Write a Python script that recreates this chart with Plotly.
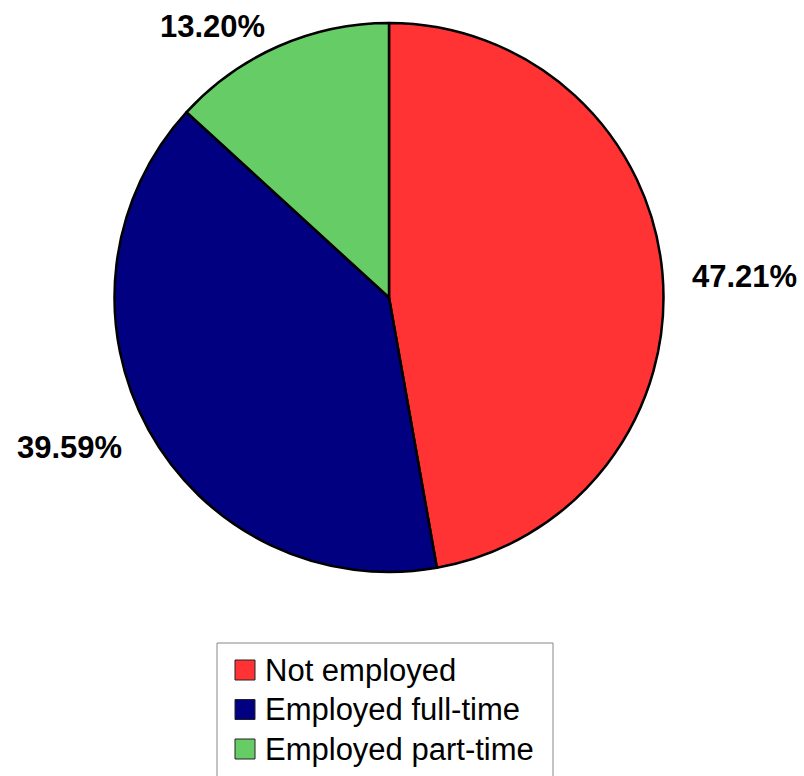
import math
import plotly.graph_objects as go

# Employment status shares (percent)
categories = ["Not employed", "Employed full-time", "Employed part-time"]
shares = [47.21, 39.59, 13.20]
colors = ["#FF3333", "#000080", "#66CC66"]

W, H = 804, 776
cx, cy, R = 389, 297.5, 274.5  # pie centre and radius in pixels
FONT = "Liberation Sans, Arial, sans-serif"

fig = go.Figure(
    go.Pie(
        labels=categories,
        values=shares,
        sort=False,
        direction="clockwise",
        rotation=0,
        textinfo="none",
        hoverinfo="label+percent",
        showlegend=False,
        marker=dict(colors=colors, line=dict(color="black", width=2.5)),
        domain=dict(
            x=[(cx - R) / W, (cx + R) / W],
            y=[1 - (cy + R) / H, 1 - (cy - R) / H],
        ),
    )
)

# Percentage labels just outside each slice, at the slice's mid-angle
total = sum(shares)
start = 0.0
annotations = []
for val in shares:
    mid = start + val / total * 360 / 2
    start += val / total * 360
    a = math.radians(mid)
    r = R * 1.1
    px = cx + r * math.sin(a)
    py = cy - r * math.cos(a) + 5
    annotations.append(
        dict(
            x=px / W, y=1 - py / H, xref="paper", yref="paper",
            text=f"<b>{val:.2f}%</b>", showarrow=False,
            xanchor="left" if math.sin(a) > 0 else "right", yanchor="middle",
            font=dict(size=31, color="black", family=FONT),
        )
    )

# Legend panel: framed box with a colour swatch and a label per category
shapes = [
    dict(type="rect", xref="paper", yref="paper",
         x0=217 / W, x1=553 / W, y0=1 - 778 / H, y1=1 - 643 / H,
         line=dict(color="#888888", width=1), fillcolor="white", layer="below"),
]
row0, step = 670, 39.5
for i, (name, col) in enumerate(zip(categories, colors)):
    yc = row0 + i * step
    shapes.append(dict(
        type="rect", xref="paper", yref="paper",
        x0=235 / W, x1=255 / W, y0=1 - (yc + 10) / H, y1=1 - (yc - 10) / H,
        line=dict(color="#222222", width=1), fillcolor=col,
    ))
    annotations.append(dict(
        x=263 / W, y=1 - yc / H, xref="paper", yref="paper",
        text=name, showarrow=False, xanchor="left", yanchor="middle",
        font=dict(size=31, color="black", family=FONT),
    ))

fig.update_layout(
    width=W,
    height=H,
    margin=dict(l=0, r=0, t=0, b=0),
    paper_bgcolor="white",
    plot_bgcolor="white",
    font=dict(family=FONT, color="black"),
    annotations=annotations,
    shapes=shapes,
    showlegend=False,
)

fig.write_html("out.html")
